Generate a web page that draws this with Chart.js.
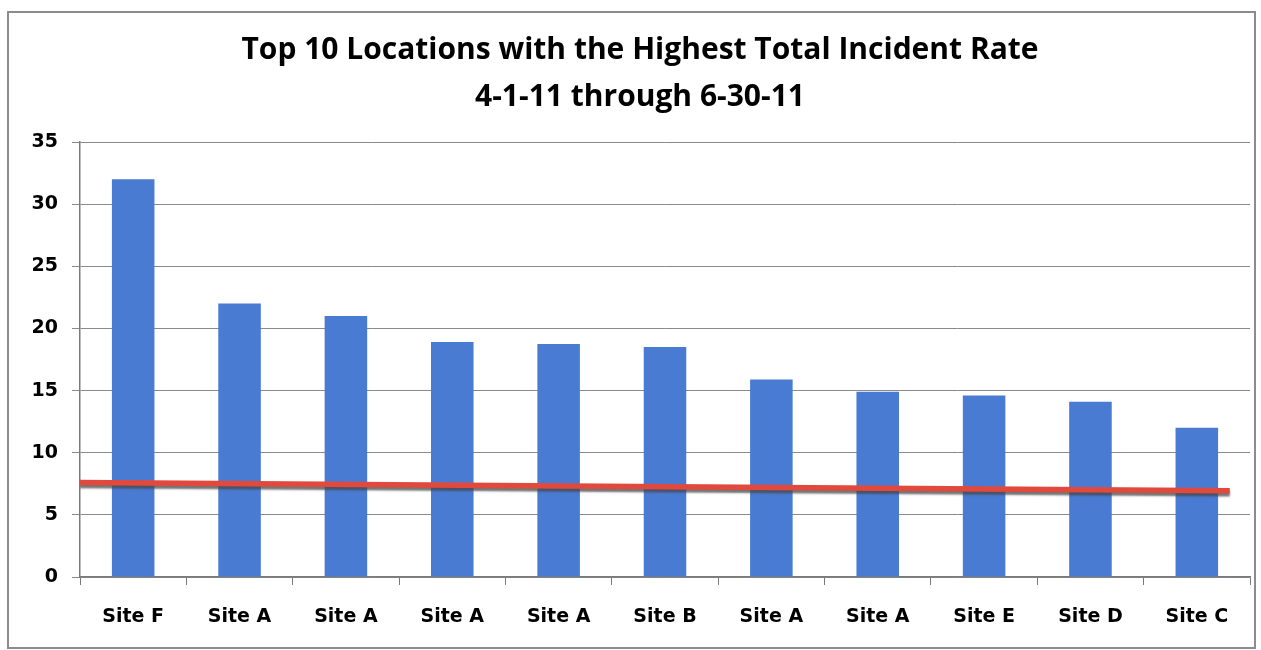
<!DOCTYPE html>
<html>
<head>
<meta charset="utf-8">
<script src="https://cdn.jsdelivr.net/npm/chart.js@4.4.1/dist/chart.umd.min.js"></script>
<style>
  html, body { margin: 0; padding: 0; background: #fff; }
  #wrap { position: relative; width: 1261px; height: 650px; }
</style>
</head>
<body>
<div id="wrap"><canvas id="incidentChart" width="1261" height="650"></canvas></div>
<script>
const siteLabels = ['Site F', 'Site A', 'Site A', 'Site A', 'Site A', 'Site B', 'Site A', 'Site A', 'Site E', 'Site D', 'Site C'];
const incidentRates = [32, 22, 21, 18.9, 18.75, 18.5, 15.9, 14.9, 14.6, 14.1, 12];
const yTicks = [0, 5, 10, 15, 20, 25, 30, 35];
// red reference line, start and end (category index, rate)
const refLineX = [-0.5, 10.31];
const refLineY = [7.6, 6.95];

const titleLines = ['Top 10 Locations with the Highest Total Incident Rate', '4-1-11 through 6-30-11'];

// grey drop shadow under the red line + outer frame
const shadowPlugin = {
  id: 'shadowPlugin',
  beforeDraw(chart) {
    const c = chart.ctx;
    c.save();
    c.fillStyle = '#fff';
    c.fillRect(0, 0, chart.width, chart.height);
    c.strokeStyle = '#8c8c8c';
    c.lineWidth = 2;
    c.strokeRect(8, 12, 1247, 636);
    c.restore();
  },
  beforeDatasetDraw(chart, args) {
    if (chart.data.datasets[args.index].type !== 'line') return;
    const c = chart.ctx;
    c.save();
    c.shadowColor = 'rgba(70,70,70,0.75)';
    c.shadowOffsetY = 3;
    c.shadowBlur = 2;
  },
  afterDatasetDraw(chart, args) {
    if (chart.data.datasets[args.index].type !== 'line') return;
    chart.ctx.restore();
  }
};

const ctx = document.getElementById('incidentChart');

new Chart(ctx, {
  type: 'bar',
  data: {
    labels: siteLabels,
    datasets: [
      {
        type: 'bar',
        data: incidentRates,
        backgroundColor: '#4a7bd2',
        barPercentage: 0.4,
        categoryPercentage: 1,
        grouped: false,
        order: 2
      },
      {
        type: 'line',
        data: refLineX.map((x, i) => ({ x: x, y: refLineY[i] })),
        xAxisID: 'x2',
        borderColor: '#e2493d',
        borderWidth: 5.5,
        pointRadius: 0,
        tension: 0,
        order: 1
      }
    ]
  },
  options: {
    responsive: false,
    animation: false,
    layout: { padding: { left: 30, right: 11, top: 0, bottom: 0 } },
    plugins: {
      legend: { display: false },
      tooltip: { enabled: false },
      title: {
        display: true,
        text: titleLines,
        color: '#000',
        font: { family: 'Open Sans', size: 30, weight: 'bold', lineHeight: 1.567 },
        padding: { top: 27, bottom: 21 }
      }
    },
    scales: {
      x: {
        type: 'category',
        offset: true,
        afterFit(scale) { scale.height = 73; },
        border: { color: '#7a7a7a', width: 1.5 },
        grid: { display: true, drawOnChartArea: false, tickLength: 8, color: '#7a7a7a', offset: true },
        ticks: {
          color: '#000',
          padding: 21,
          maxRotation: 0,
          font: { family: 'DejaVu Sans', size: 19, weight: 'bold' }
        }
      },
      x2: {
        type: 'linear',
        display: false,
        offset: false,
        min: -0.5,
        max: siteLabels.length - 0.5
      },
      y: {
        min: 0,
        max: 35,
        afterFit(scale) { scale.width = 50; },
        afterBuildTicks(scale) { scale.ticks = yTicks.map(v => ({ value: v })); },
        border: { color: '#7a7a7a', width: 1.5 },
        grid: { color: '#8a8a8a', lineWidth: 1, tickLength: 8 },
        ticks: {
          color: '#000',
          padding: 14,
          font: { family: 'DejaVu Sans', size: 19, weight: 'bold' }
        }
      }
    }
  },
  plugins: [shadowPlugin]
});
</script>
</body>
</html>
